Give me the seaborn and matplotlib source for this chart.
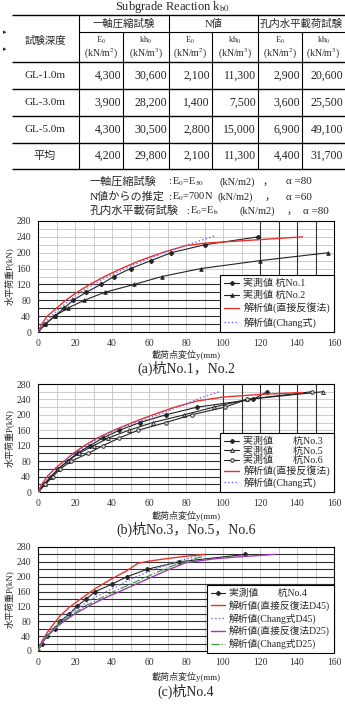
import numpy as np
import pandas as pd
import matplotlib
matplotlib.use("Agg")
import matplotlib.pyplot as plt
import seaborn as sns

# 表のデータ
table_title = "Subgrade Reaction k$_{\\mathrm{b0}}$"
group_heads = ["一軸圧縮試験", "N値", "孔内水平載荷試験"]
sub_heads = ["E$_0$", "kh$_0$", "E$_0$", "kh$_0$", "E$_0$", "kh$_0$"]
unit_heads = ["(kN/m$^2$)", "(kN/m$^3$)"] * 3
depth_labels = ["GL-1.0m", "GL-3.0m", "GL-5.0m", "平均"]
row_gl10 = ["4,300", "30,600", "2,100", "11,300", "2,900", "20,600"]
row_gl30 = ["3,900", "28,200", "1,400", "7,500", "3,600", "25,500"]
row_gl50 = ["4,300", "30,500", "2,800", "15,000", "6,900", "49,100"]
row_avg = ["4,200", "29,800", "2,100", "11,300", "4,400", "31,700"]
note_names = ["一軸圧縮試験", "N値からの推定", "孔内水平載荷試験"]
note_e0 = ["E$_0$=E$_{50}$", "E$_0$=700N", "E$_0$=E$_\\mathrm{b}$"]
note_alpha = ["α =80", "α =60", "α =80"]

# (a) 杭No.1, No.2
a_y_no1 = [0, 4, 9, 14, 19, 26, 34, 41, 50, 61, 72, 90, 119]
a_p_no1 = [0, 20, 40, 60, 80, 100, 120, 140, 160, 180, 200, 220, 240]
a_y_no2 = [0, 4, 9, 16, 25, 36, 52, 67, 88, 120, 157]
a_p_no2 = [0, 20, 40, 60, 80, 100, 120, 140, 160, 180, 200]
a_y_direct = [0, 2, 5, 10, 15, 21, 28, 36, 45, 55, 67, 80, 90, 100, 120, 143]
a_p_direct = [0, 20, 40, 60, 80, 100, 120, 140, 160, 180, 200, 218, 224, 227, 233, 240]
a_y_chang = [0, 3, 7, 12, 17, 23, 30, 38, 47, 57, 68, 80, 88, 96]
a_p_chang = [0, 20, 40, 60, 80, 100, 120, 140, 160, 180, 200, 219, 231, 243]

# (b) 杭No.3, No.5, No.6
b_y_no3 = [0, 3, 7, 11, 16, 21, 28, 35, 44, 55, 69, 86, 116, 124]
b_p_no3 = [0, 20, 40, 60, 80, 100, 120, 140, 160, 180, 200, 220, 240, 260]
b_y_no5 = [0, 4, 7, 11, 16, 22, 30, 38, 49, 62, 79, 95, 113, 154]
b_p_no5 = [0, 20, 40, 60, 80, 100, 120, 140, 160, 180, 200, 220, 240, 260]
b_y_no6 = [0, 4, 8, 12, 18, 27, 35, 44, 54, 69, 83, 101, 113, 148]
b_p_no6 = [0, 20, 40, 60, 80, 100, 120, 140, 160, 180, 200, 220, 240, 260]
b_y_direct = [0, 2, 5, 9, 14, 19, 25, 32, 41, 51, 62, 74, 86, 100, 120, 143]
b_p_direct = [0, 20, 40, 60, 80, 100, 120, 140, 160, 180, 200, 220, 236, 246, 253, 258]
b_y_chang = [0, 2, 5, 9, 14, 20, 26, 33, 42, 53, 65, 78, 88, 98]
b_p_chang = [0, 20, 40, 60, 80, 100, 120, 140, 160, 180, 200, 225, 244, 260]

# (c) 杭No.4
c_y_no4 = [0, 2, 5, 9, 12, 17, 21, 26, 31, 40, 48, 59, 76, 112]
c_p_no4 = [0, 20, 40, 60, 80, 100, 120, 140, 160, 180, 200, 220, 240, 260]
c_y_d45 = [0, 2, 5, 8, 12, 17, 23, 31, 39, 48, 54, 60, 70, 80, 90]
c_p_d45 = [0, 25, 50, 70, 95, 118, 140, 168, 192, 216, 236, 242, 249, 255, 260]
c_y_chang45 = [0, 2, 4, 8, 12, 17, 23, 29, 37, 45, 53, 63, 74, 88]
c_p_chang45 = [0, 20, 40, 60, 80, 100, 120, 140, 160, 180, 200, 220, 240, 258]
c_y_d25 = [0, 2, 5, 9, 14, 20, 27, 35, 44, 53, 62, 71, 80, 95, 110, 128]
c_p_d25 = [0, 20, 40, 60, 80, 100, 120, 140, 160, 180, 200, 220, 238, 248, 254, 260]
c_y_chang25 = [0, 2, 5, 8, 13, 19, 25, 33, 41, 50, 59, 68, 77, 90]
c_p_chang25 = [0, 20, 40, 60, 80, 100, 120, 140, 160, 180, 200, 220, 238, 256]

W, H = 345, 705
sns.set_style("white")
plt.rcParams['font.family'] = ['Liberation Serif', 'Noto Sans CJK JP']
plt.rcParams['mathtext.fontset'] = 'stix'
plt.rcParams['axes.unicode_minus'] = False

fig = plt.figure(figsize=(W / 100, H / 100), dpi=100, facecolor='white')

# ピクセル座標で描く下敷き
bg = fig.add_axes([0, 0, 1, 1])
bg.set_xlim(0, W)
bg.set_ylim(H, 0)
bg.axis('off')

def hline(y, x0, x1, lw=0.8):
    bg.plot([x0, x1], [y, y], color='black', lw=lw, solid_capstyle='butt')

def vline(x, y0, y1, lw=0.8):
    bg.plot([x, x], [y0, y1], color='black', lw=lw, solid_capstyle='butt')

# --- 表 ---
bg.text(172, 7, table_title, ha='center', va='center', fontsize=9)
bg.text(5, 32, "▸", fontsize=5, ha='center', va='center', family='DejaVu Sans')
bg.text(5, 49, "▸", fontsize=5, ha='center', va='center', family='DejaVu Sans')

col_lines = [79, 123, 169, 212, 258, 302, 345]
t_top, t_grp, t_head, t_bot = 15, 32, 62, 169
row_lines = [t_head, 89, 116, 143, t_bot]
hline(t_top, 12, 345, 1.0)
hline(t_grp, 79, 345)
for y in row_lines:
    hline(y, 12, 345, 1.0)
for i, x in enumerate(col_lines[:-1]):
    vline(x, t_top if i % 2 == 0 else t_grp, t_bot)

for i, g in enumerate(group_heads):
    xc = (col_lines[2 * i] + col_lines[2 * i + 2]) / 2
    bg.text(xc, 24, g, ha='center', va='center', fontsize=7.5)
bg.text(45, 41, "試験深度", ha='center', va='center', fontsize=7.5)
for i in range(6):
    xc = (col_lines[i] + col_lines[i + 1]) / 2
    bg.text(xc, 40, sub_heads[i], ha='center', va='center', fontsize=6)
    bg.text(xc, 54, unit_heads[i], ha='center', va='center', fontsize=7)

rows = [row_gl10, row_gl30, row_gl50, row_avg]
for r, (lab, vals) in enumerate(zip(depth_labels, rows)):
    yc = (row_lines[r] + row_lines[r + 1]) / 2
    bg.text(45, yc, lab, ha='center', va='center', fontsize=8)
    for i, v in enumerate(vals):
        bg.text(col_lines[i + 1] - 2, yc, v, ha='right', va='center', fontsize=8.5)

note_y = [182, 197, 211]
note_e0_x = [168, 168, 186]
note_unit_x = [220, 217, 240]
note_comma_x = [263, 265, 287]
note_alpha_x = [286, 286, 303]
for i in range(3):
    y = note_y[i]
    bg.text(90, y, note_names[i], ha='left', va='center', fontsize=8)
    bg.text(note_e0_x[i], y, ":", ha='left', va='center', fontsize=7.5)
    bg.text(note_e0_x[i] + 4, y, note_e0[i], ha='left', va='center', fontsize=7.5)
    bg.text(note_unit_x[i], y, "(kN/m2)", ha='left', va='center', fontsize=7.5)
    bg.text(note_comma_x[i], y, "，", ha='left', va='center', fontsize=7.5)
    bg.text(note_alpha_x[i], y, note_alpha[i], ha='left', va='center', fontsize=8)

# --- グラフ ---
L, R = 38, 334
panels = [
    dict(top=221, bot=332, cap="(a)杭No.1，No.2", xl_y=355, cap_y=368,
         dark_h=[20, 40, 60, 80, 100, 120], dark_v=[120, 130, 140, 150]),
    dict(top=384, bot=492, cap="(b)杭No.3，No.5，No.6", xl_y=516, cap_y=529,
         dark_h=[20, 40, 60, 80, 100, 120, 140], dark_v=[100, 110, 120, 130, 140, 150]),
    dict(top=547, bot=651, cap="(c)杭No.4", xl_y=677, cap_y=691,
         dark_h=list(range(20, 280, 20)), dark_v=[]),
]

axes = []
for p in panels:
    ax = fig.add_axes([L / W, 1 - p['bot'] / H, (R - L) / W, (p['bot'] - p['top']) / H])
    ax.set_xlim(0, 160)
    ax.set_ylim(0, 280)
    ax.set_xticks(range(0, 161, 20))
    ax.set_yticks(range(0, 281, 40))
    for x in range(10, 160, 10):
        ax.axvline(x, color='#c4c4c4', lw=0.6, zorder=0)
    for y in range(20, 280, 20):
        ax.axhline(y, color='#c4c4c4', lw=0.6, zorder=0)
    for y in p['dark_h']:
        ax.axhline(y, color='#303030', lw=0.8, zorder=0.5)
    for x in p['dark_v']:
        ax.axvline(x, color='#303030', lw=0.8, zorder=0.5)
    ax.tick_params(labelsize=7, length=2, width=0.6, pad=3, colors='#333333')
    for s in ax.spines.values():
        s.set_color('black')
        s.set_linewidth(0.8)
    ax.set_xlabel("")
    ax.set_ylabel("")
    bg.text((L + R) / 2, p['xl_y'], "載荷点変位y(mm)", ha='center', va='center', fontsize=6.5)
    bg.text((L + R) / 2, p['cap_y'], p['cap'], ha='center', va='center', fontsize=10)
    bg.text(9, (p['top'] + p['bot']) / 2, "水平荷重P(kN)", ha='center', va='center',
            fontsize=6.5, rotation=90)
    axes.append(ax)

def draw(ax, xs, ys, label, color, ls='-', lw=0.9, marker=None, ms=2.5, mfc=None):
    sns.lineplot(x=xs, y=ys, ax=ax, sort=False, estimator=None, color=color,
                 linestyle=ls, linewidth=lw, marker=marker, markersize=ms,
                 markerfacecolor=mfc if mfc else color, markeredgecolor='#222222',
                 markeredgewidth=0.6, label=label, zorder=3)

def legend(ax, anchor, fs, spacing):
    leg = ax.legend(loc='lower right', bbox_to_anchor=anchor, fontsize=fs, frameon=True,
                    fancybox=False, framealpha=1, edgecolor='black', borderaxespad=0,
                    handlelength=1.5, handletextpad=0.4, labelspacing=spacing,
                    borderpad=0.4)
    leg.get_frame().set_linewidth(0.8)
    leg.set_zorder(10)

ax = axes[0]
draw(ax, a_y_no1, a_p_no1, "実測値 杭No.1", '#222222', lw=0.8, marker='P', ms=3)
draw(ax, a_y_no2, a_p_no2, "実測値 杭No.2", '#222222', lw=0.8, marker='^', ms=2.6)
draw(ax, a_y_direct, a_p_direct, "解析値(直接反復法)", '#e8322e', lw=1.0)
draw(ax, a_y_chang, a_p_chang, "解析値(Chang式)", '#6a6af0', ls=':', lw=1.0)
legend(ax, (1, 0), 7.2, 0.3)

ax = axes[1]
draw(ax, b_y_no3, b_p_no3, "実測値　　杭No.3", '#222222', lw=0.8, marker='P', ms=3)
draw(ax, b_y_no5, b_p_no5, "実測値　　杭No.5", '#222222', lw=0.8, marker='^', ms=2.8, mfc='#cccccc')
draw(ax, b_y_no6, b_p_no6, "実測値　　杭No.6", '#222222', lw=0.8, marker='o', ms=2.6, mfc='#cccccc')
draw(ax, b_y_direct, b_p_direct, "解析値(直接反復法)", '#e8322e', lw=1.0)
draw(ax, b_y_chang, b_p_chang, "解析値(Chang式)", '#6a6af0', ls=':', lw=1.0)
legend(ax, (1, 0), 7.2, 0.05)

ax = axes[2]
draw(ax, c_y_no4, c_p_no4, "実測値　　杭No.4", '#222222', lw=0.8, marker='P', ms=3)
draw(ax, c_y_d45, c_p_d45, "解析値(直接反復法D45)", '#e8322e', lw=1.0)
draw(ax, c_y_chang45, c_p_chang45, "解析値(Chang式D45)", '#6a6af0', ls=':', lw=1.0)
draw(ax, c_y_d25, c_p_d25, "解析値(直接反復法D25)", '#9b3fb5', lw=1.0)
draw(ax, c_y_chang25, c_p_chang25, "解析値(Chang式D25)", '#3aa03a', ls='-.', lw=0.9)
legend(ax, (1, -0.02), 7.0, 0.2)

fig.savefig("out.png", dpi=100, facecolor='white')
